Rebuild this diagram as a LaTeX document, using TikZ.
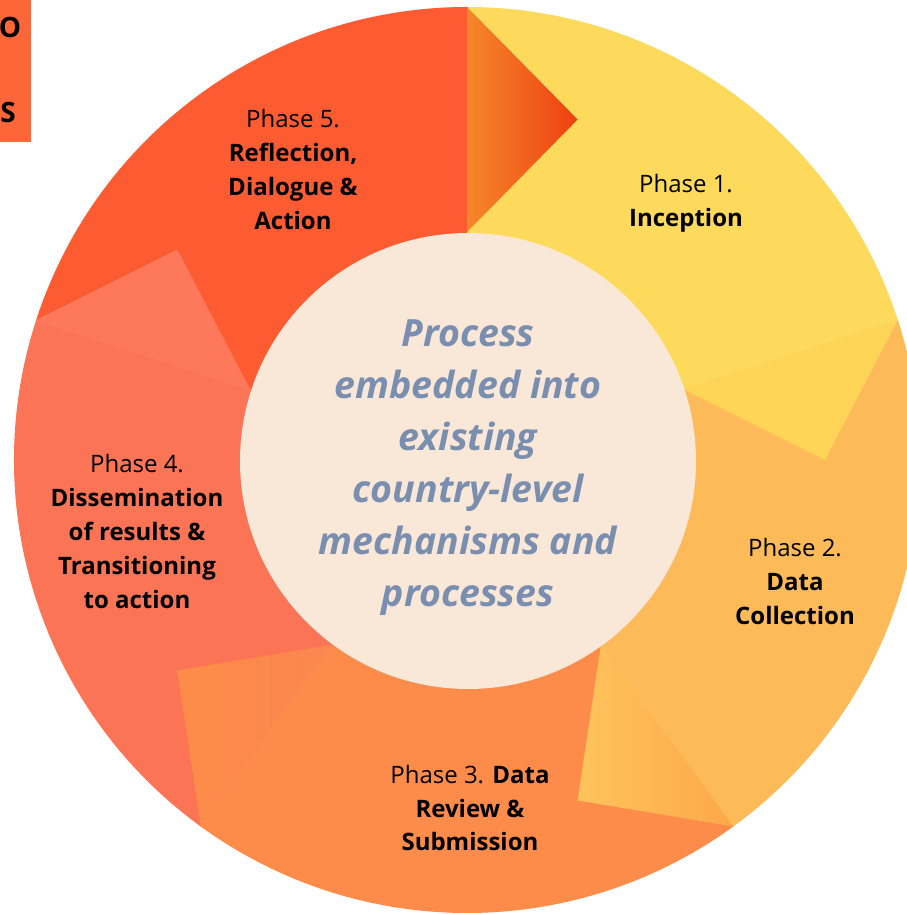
\documentclass[tikz,border=0pt]{standalone}
\usepackage{fontspec}
\setmainfont{Open Sans}
\usetikzlibrary{positioning}
\definecolor{phaseone}{HTML}{FDDA5B}
\definecolor{phasetwo}{HTML}{FDBA59}
\definecolor{phasethree}{HTML}{FD8C4B}
\definecolor{phasefour}{HTML}{FC7456}
\definecolor{phasefive}{HTML}{FD5C32}
\definecolor{foldfiveL}{HTML}{F5872B}
\definecolor{foldfiveR}{HTML}{EE4010}
\definecolor{foldone}{HTML}{FDD455}
\definecolor{foldtwoL}{HTML}{FEC35C}
\definecolor{foldtwoR}{HTML}{FDA849}
\definecolor{foldthreeL}{HTML}{FD8C48}
\definecolor{foldthreeR}{HTML}{FC8650}
\definecolor{foldfour}{HTML}{FE795B}
\definecolor{centrefill}{HTML}{F9E7D8}
\definecolor{centreink}{HTML}{7A8EB0}
\definecolor{tabfill}{HTML}{FD6638}
\tikzset{
  phaselabel/.style={align=center,text=black,font=\fontsize{24}{34}\selectfont},
  centretext/.style={align=center,text=centreink,font=\fontsize{37.5}{52}\selectfont\bfseries\itshape},
  tabletter/.style={text=black,font=\fontsize{28}{30}\selectfont\bfseries}
}

\begin{document}
\begin{tikzpicture}[line cap=round,line join=round,x=1pt,y=1pt]
    \useasboundingbox (0,0) rectangle (907,914);
    % cut-off tab, top left
    \fill[tabfill] (0,914) rectangle (31,772);
    \node[tabletter] (tabo) at (10,887) {O};
    \node[tabletter] (tabs) at (8,801) {S};
    \begin{scope}[shift={(467,454)}]
        % the five phases
        \fill[phaseone] (0,0) -- (18:453) arc[start angle=18,end angle=90,radius=453] -- cycle;
        \fill[phasefive] (0,0) -- (90:453) arc[start angle=90,end angle=162,radius=453] -- cycle;
        \fill[phasefour] (0,0) -- (162:453) arc[start angle=162,end angle=234,radius=453] -- cycle;
        \fill[phasethree] (0,0) -- (234:453) arc[start angle=234,end angle=306,radius=453] -- cycle;
        \fill[phasetwo] (0,0) -- (306:453) arc[start angle=306,end angle=378,radius=453] -- cycle;
        % folds
        \shade[left color=foldfiveL,right color=foldfiveR] (90:453) -- (72:358) -- (90:228) -- cycle;
        \fill[foldone] (18:453) -- (0:358) -- (18:228) -- cycle;
        \shade[left color=foldtwoL,right color=foldtwoR] (306:453) -- (288:358) -- (306:228) -- cycle;
        \shade[left color=foldthreeL,right color=foldthreeR] (234:453) -- (216:358) -- (234:228) -- cycle;
        \fill[foldfour] (162:453) -- (144:358) -- (162:228) -- cycle;
        % centre
        \fill[centrefill] (1,-1) circle (228);
    \end{scope}
    \node[centretext] (centre) at (468,446) {Process\\embedded into\\existing\\country-level\\mechanisms and\\processes};
    \node[phaselabel] (inception) at (686,711) {Phase 1.\\\textbf{Inception}};
    \node[phaselabel] (collection) at (795,332) {Phase 2.\\\textbf{Data}\\\textbf{Collection}};
    \node[phaselabel] (review) at (470,106) {Phase 3. \textbf{Data}\\\textbf{Review \&}\\\textbf{Submission}};
    \node[phaselabel] (dissemination) at (137,382) {Phase 4.\\\textbf{Dissemination}\\\textbf{of results \&}\\\textbf{Transitioning}\\\textbf{to action}};
    \node[phaselabel] (reflection) at (293,744) {Phase 5.\\\textbf{Reflection,}\\\textbf{Dialogue \&}\\\textbf{Action}};
\end{tikzpicture}
\end{document}
